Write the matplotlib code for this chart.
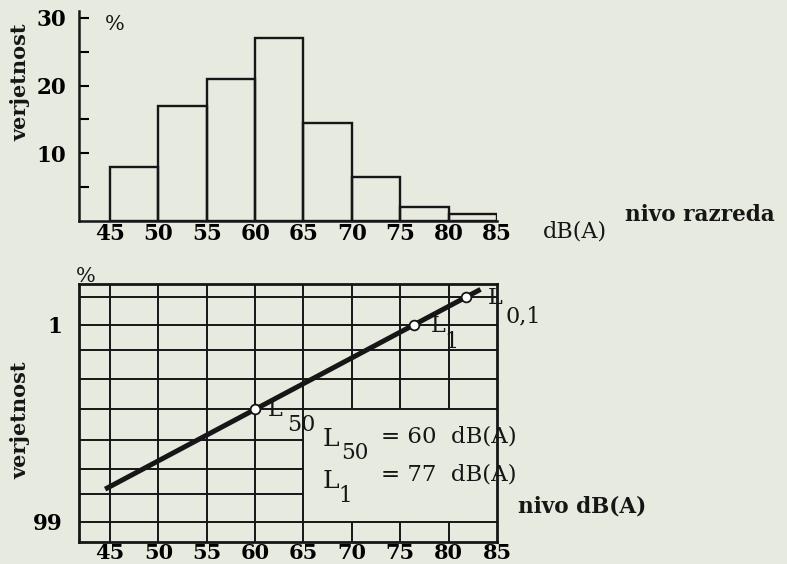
import numpy as np
import matplotlib.pyplot as plt
from statistics import NormalDist

# histogram of class levels (top)
bin_edges = [45, 50, 55, 60, 65, 70, 75, 80, 85]
share = [8, 17, 21, 27, 14.5, 6.5, 2, 1]

# cumulative plot on probability paper (bottom)
line_level = [44.5, 83.3]
line_prob = [98.6, 0.048]
marked_level = [60, 76.4, 81.8]
marked_prob = [50, 1, 0.1]
marked_sub = ['50', '1', '0,1']
grid_level = [45, 50, 55, 60, 65, 70, 75, 80]
grid_prob = [0.1, 1, 5, 20, 50, 80, 95, 99, 99.9]

bg = '#e7eadf'
ink = '#161616'
plt.rcParams['font.family'] = ['DejaVu Serif']
plt.rcParams['text.color'] = ink

nd = NormalDist()
fwd = np.vectorize(lambda p: nd.inv_cdf(min(max(p / 100, 1e-9), 1 - 1e-9)), otypes=[float])
inv = np.vectorize(lambda z: 100 * nd.cdf(z), otypes=[float])

fig = plt.figure(figsize=(7.87, 5.64), dpi=100, facecolor=bg)
W, H = 787, 564
def fx(px): return px / W
def fy(py): return 1 - py / H

# ---- top: histogram
ax1 = fig.add_axes([fx(79), fy(221), fx(497) - fx(79), fy(11) - fy(221)])
ax1.set_facecolor(bg)
ax1.bar(bin_edges[:-1], share, width=np.diff(bin_edges), align='edge',
        facecolor='none', edgecolor=ink, linewidth=1.7)
ax1.set_xlim(41.8, 85)
ax1.set_ylim(0, 31)
for s in ['top', 'right']:
    ax1.spines[s].set_visible(False)
for s in ['left', 'bottom']:
    ax1.spines[s].set_linewidth(1.8)
    ax1.spines[s].set_color(ink)
ax1.set_xticks(bin_edges)
ax1.set_yticks([10, 20, 30])
ax1.set_yticks([5, 15, 25], minor=True)
ax1.tick_params(axis='x', length=0, pad=1.5, labelsize=15.5)
ax1.tick_params(axis='y', which='both', direction='in', length=7, width=1.5,
                pad=9, labelsize=15.5)
for lab in ax1.get_xticklabels() + ax1.get_yticklabels():
    lab.set_fontweight('bold')
fig.text(fx(115), fy(25), '%', fontsize=15, ha='center', va='center')
fig.text(fx(20), fy(82), 'verjetnost', rotation=90, fontsize=15,
         fontweight='bold', ha='center', va='center')
fig.text(fx(625), fy(215), 'nivo razreda', fontsize=15.5, fontweight='bold',
         ha='left', va='center')
fig.text(fx(543), fy(232), 'dB(A)', fontsize=16, ha='left', va='center')

# ---- bottom: probability paper
ax2 = fig.add_axes([fx(79), fy(542), fx(497) - fx(79), fy(284) - fy(542)])
ax2.set_facecolor(bg)
ax2.set_yscale('function', functions=(fwd, inv))
ax2.set_xlim(41.8, 85)
ax2.set_ylim(99.987, 0.028)
for p in grid_prob:
    right = 65 if 50 < p < 99.9 else 85
    ax2.hlines(p, 41.8, right, color=ink, linewidth=1.4, zorder=1)
for x in grid_level:
    if x > 65:
        ax2.vlines(x, 0.028, 50, color=ink, linewidth=1.4, zorder=1)
        ax2.vlines(x, 99.9, 99.987, color=ink, linewidth=1.4, zorder=1)
    else:
        ax2.vlines(x, 0.028, 99.987, color=ink, linewidth=1.4, zorder=1)
for s in ax2.spines.values():
    s.set_linewidth(2)
    s.set_color(ink)
ax2.plot(line_level, line_prob, color=ink, linewidth=3.6, solid_capstyle='butt', zorder=3)
ax2.plot(marked_level, marked_prob, 'o', markersize=7, markerfacecolor='white',
         markeredgecolor=ink, markeredgewidth=1.3, zorder=4)
offs = [((20, -1), (46, -16)), ((24, -1), (38, -17)), ((29, -1), (57, -19))]
for lv, pr, sub, (o1, o2) in zip(marked_level, marked_prob, marked_sub, offs):
    ax2.annotate('L', (lv, pr), xytext=o1, textcoords='offset pixels',
                 fontsize=16, ha='center', va='center', zorder=5)
    ax2.annotate(sub, (lv, pr), xytext=o2, textcoords='offset pixels',
                 fontsize=16, ha='center', va='center', zorder=5)
ax2.set_xticks(bin_edges)
ax2.set_yticks([1, 99.9])
ax2.set_yticklabels(['1', '99'])
ax2.yaxis.set_minor_locator(plt.NullLocator())
ax2.tick_params(axis='x', length=0, pad=0.5, labelsize=15)
ax2.tick_params(axis='y', length=0, pad=12, labelsize=15.5)
for lab in ax2.get_xticklabels() + ax2.get_yticklabels():
    lab.set_fontweight('bold')

fig.text(fx(86), fy(277), '%', fontsize=15, ha='center', va='center')
fig.text(fx(20), fy(420), 'verjetnost', rotation=90, fontsize=15,
         fontweight='bold', ha='center', va='center')
fig.text(fx(518), fy(507), 'nivo dB(A)', fontsize=15.5, fontweight='bold',
         ha='left', va='center')

fig.text(fx(331), fy(439), 'L', fontsize=18, ha='center', va='center')
fig.text(fx(355), fy(453), '50', fontsize=15.5, ha='center', va='center')
fig.text(fx(381), fy(437), '= 60  dB(A)', fontsize=16.5, ha='left', va='center')
fig.text(fx(331), fy(481), 'L', fontsize=18, ha='center', va='center')
fig.text(fx(345), fy(496), '1', fontsize=15.5, ha='center', va='center')
fig.text(fx(381), fy(474), '= 77  dB(A)', fontsize=16.5, ha='left', va='center')

fig.savefig('out.png', dpi=100, facecolor=bg)
